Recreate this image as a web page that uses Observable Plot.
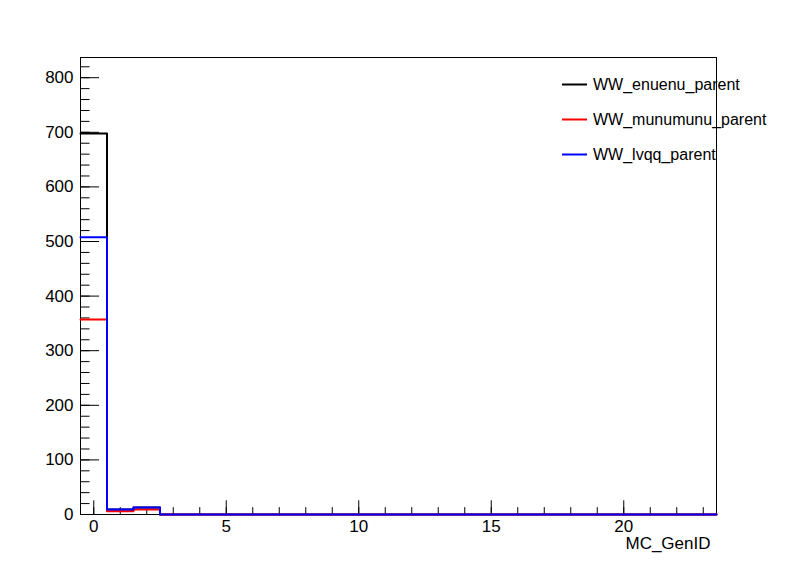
<!DOCTYPE html>
<html>
<head>
<meta charset="utf-8">
<script src="https://cdn.jsdelivr.net/npm/d3@7"></script>
<script src="https://cdn.jsdelivr.net/npm/@observablehq/plot@0.6"></script>
<style>
  html, body { margin: 0; padding: 0; background: #fff; }
  #chart svg { display: block; }
</style>
</head>
<body>
<div id="chart"></div>
<script>
// Histogram of MC_GenID, bins of width 1 from -0.5 to 23.5
const binEdges = d3.range(-0.5, 24, 1); // 25 edges
const seriesNames = ["WW_enuenu_parent", "WW_munumunu_parent", "WW_lvqq_parent"];
const seriesColors = ["#000000", "#ff0000", "#0000ff"];
const enuenu   = [698, 9, 13, 0, 0, 0, 0, 0, 0, 0, 0, 0, 0, 0, 0, 0, 0, 0, 0, 0, 0, 0, 0, 0];
const munumunu = [357, 6, 9, 0, 0, 0, 0, 0, 0, 0, 0, 0, 0, 0, 0, 0, 0, 0, 0, 0, 0, 0, 0, 0];
const lvqq     = [508, 9, 13, 0, 0, 0, 0, 0, 0, 0, 0, 0, 0, 0, 0, 0, 0, 0, 0, 0, 0, 0, 0, 0];
const xMajorTicks = [0, 5, 10, 15, 20];
const xMinorTicks = d3.range(0, 24, 1);
const yMajorTicks = d3.range(0, 801, 100);
const yMinorTicks = d3.range(0, 837, 20);
const yMax = 837;

const allValues = [enuenu, munumunu, lvqq];
const stepData = [];
allValues.forEach((vals, si) => {
  vals.forEach((v, i) => stepData.push({series: seriesNames[si], x: binEdges[i], y: v}));
  stepData.push({series: seriesNames[si], x: binEdges[binEdges.length - 1], y: vals[vals.length - 1]});
});

const W = 796, H = 572;
const mL = 80, mR = 80, mT = 57, mB = 58;
const frameW = W - mL - mR, frameH = H - mT - mB;
const FONT = "'Liberation Sans', Arial, Helvetica, sans-serif";

const plot = Plot.plot({
  width: W,
  height: H,
  marginLeft: mL,
  marginRight: mR,
  marginTop: mT,
  marginBottom: mB,
  style: {background: "#fff", fontFamily: FONT, color: "#000"},
  x: {domain: [-0.5, 23.5]},
  y: {domain: [0, yMax]},
  color: {domain: seriesNames, range: seriesColors},
  marks: [
    Plot.frame({stroke: "#000", strokeWidth: 1}),
    // X axis ticks (inward)
    Plot.axisX({ticks: xMinorTicks, tickSize: -0.03 * frameH / 2, text: null, label: null, stroke: "#000"}),
    Plot.axisX({ticks: xMajorTicks, tickSize: -0.03 * frameH, text: null, label: null, stroke: "#000"}),
    Plot.axisX({ticks: xMajorTicks, tickSize: 0, tickPadding: 5, fontSize: 17, label: null, tickFormat: d3.format("d"), fill: "#000"}),
    // Y axis ticks (inward)
    Plot.axisY({ticks: yMinorTicks, tickSize: -0.03 * frameW / 2, text: null, label: null, stroke: "#000"}),
    Plot.axisY({ticks: yMajorTicks, tickSize: -0.03 * frameW, text: null, label: null, stroke: "#000"}),
    Plot.axisY({ticks: yMajorTicks, tickSize: 0, tickPadding: 7, fontSize: 17, label: null, tickFormat: d3.format("d"), fill: "#000"}),
    // histograms
    Plot.line(stepData, {x: "x", y: "y", z: "series", stroke: "series", strokeWidth: 2, curve: "step-after"}),
    // axis title
    Plot.text(["MC_GenID"], {frameAnchor: "bottom-right", dx: -6, dy: 34, fontSize: 17, textAnchor: "end", fill: "#000"})
  ]
});

document.getElementById("chart").appendChild(plot);

// Legend (ROOT TLegend style, no border)
const svg = d3.select(plot);
const lg = svg.append("g").attr("font-family", FONT).attr("font-size", 16).attr("text-anchor", "start");
seriesNames.forEach((name, i) => {
  const cy = 84.5 + i * 35;
  lg.append("line").attr("x1", 562).attr("x2", 587).attr("y1", cy).attr("y2", cy)
    .attr("stroke", seriesColors[i]).attr("stroke-width", 2);
  lg.append("text").attr("x", 593).attr("y", cy).attr("dy", "0.35em").attr("fill", "#000").attr("text-anchor", "start").text(name);
});
</script>
</body>
</html>
